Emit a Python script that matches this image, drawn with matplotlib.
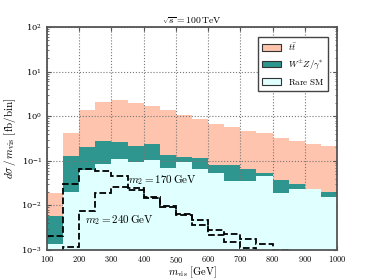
import numpy as np
import matplotlib
matplotlib.use("Agg")
import matplotlib.pyplot as plt
from matplotlib.patches import Patch

plt.rcParams["mathtext.fontset"] = "cm"
plt.rcParams["font.family"] = "serif"
plt.rcParams["font.serif"] = ["DejaVu Serif"]

# 50 GeV bins from 100 to 1000
edges = np.arange(100, 1001, 50)

# stacked tops [fb/bin]
rare_sm = [0.0014, 0.0197, 0.062, 0.083, 0.11, 0.094, 0.103, 0.069, 0.092,
           0.065, 0.054, 0.036, 0.035, 0.045, 0.0193, 0.023, 0.023, 0.0155]
wz_top = [0.0058, 0.128, 0.207, 0.28, 0.27, 0.21, 0.24, 0.137, 0.124,
          0.113, 0.080, 0.080, 0.065, 0.052, 0.037, 0.031, 0.0235, 0.0197]
tt_top = [0.0187, 0.41, 1.38, 2.12, 2.27, 1.98, 1.69, 1.36, 1.06,
          0.88, 0.67, 0.58, 0.47, 0.41, 0.33, 0.28, 0.24, 0.215]

# signal curves (1e-4 = nothing in the bin)
sig_170 = [0.0021, 0.030, 0.065, 0.060, 0.045, 0.025, 0.015, 0.0095, 0.0063,
           0.0046, 0.0028, 0.0023, 0.0018, 0.00135, 0.00098, 1e-4, 1e-4, 1e-4]
sig_240 = [1e-4, 0.00115, 0.0075, 0.0187, 0.026, 0.022, 0.0155, 0.0092, 0.0062,
           0.0036, 0.0022, 0.0015, 0.00113, 1e-4, 1e-4, 1e-4, 1e-4, 1e-4]

c_tt = "#ffc4ae"
c_wz = "#2e958f"
c_rare = "#e0ffff"

fig = plt.figure(figsize=(3.74, 2.8), dpi=100)
ax = fig.add_axes([0.1257, 0.107, 0.7753, 0.7966])

ax.stairs(tt_top, edges, baseline=1e-4, fill=True, color=c_tt, zorder=1)
ax.stairs(wz_top, edges, baseline=1e-4, fill=True, color=c_wz, zorder=2)
ax.stairs(rare_sm, edges, baseline=1e-4, fill=True, color=c_rare, zorder=3)

ax.stairs(sig_170, edges, baseline=None, color="k", ls="--", lw=1.3, zorder=5)
ax.stairs(sig_240, edges, baseline=None, color="k", ls="--", lw=1.3, zorder=5)

ax.set_yscale("log")
ax.set_xlim(100, 1000)
ax.set_ylim(1e-3, 1e2)
ax.set_xticks(np.arange(100, 1001, 100))
ax.set_xticklabels([r"$%d$" % v for v in range(100, 1001, 100)])
ax.grid(True, which="major", ls=":", color="#777777", lw=0.8, zorder=4)
ax.set_axisbelow(False)

ax.tick_params(which="both", direction="in", top=True, right=True,
               labelsize=6, color="#555555")
ax.tick_params(which="major", length=3)
ax.tick_params(which="minor", length=1.5)
ax.tick_params(axis="x", pad=2.5)
for s in ax.spines.values():
    s.set_color("#555555")
    s.set_linewidth(1.3)
    s.set_zorder(6)

ax.set_xlabel(r"$m_{\rm vis}\ [\mathrm{GeV}]$", fontsize=7.5, va="center")
ax.xaxis.set_label_coords(0.5, -0.1)
ax.set_ylabel(r"$d\sigma\,/\,m_{\rm vis}\ [\mathrm{fb/bin}]$", fontsize=8, labelpad=2)
ax.set_title(r"$\sqrt{s}=100\,\mathrm{TeV}$", fontsize=7, pad=2)

ax.text(352, 0.037, r"$m_2=170\,\mathrm{GeV}$", fontsize=8, va="center", zorder=7)
ax.text(218, 0.0047, r"$m_2=240\,\mathrm{GeV}$", fontsize=8, va="center", zorder=7)

handles = [Patch(facecolor=c_tt, edgecolor="#333333", lw=0.8),
           Patch(facecolor=c_wz, edgecolor="#333333", lw=0.8),
           Patch(facecolor=c_rare, edgecolor="#333333", lw=0.8)]
labels = [r"$t\bar{t}$", r"$W^{\pm}Z/\gamma^{*}$", r"$\mathrm{Rare\ SM}$"]
leg = ax.legend(handles, labels, loc="upper right", fontsize=6.5, fancybox=False,
                framealpha=1, edgecolor="#444444", borderpad=0.45,
                handlelength=2.1, handleheight=0.75, labelspacing=0.55,
                handletextpad=0.7, bbox_to_anchor=(0.985, 0.975))
leg.get_frame().set_linewidth(1.0)
leg.set_zorder(8)

fig.savefig("out.png", dpi=100)
